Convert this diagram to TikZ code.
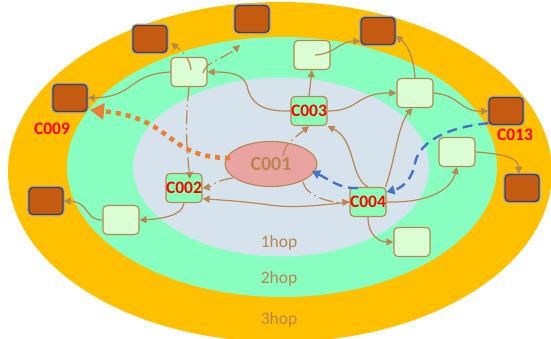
\documentclass[tikz,border=0pt]{standalone}
\usepackage{fontspec}
\setmainfont{Carlito}
\usetikzlibrary{arrows.meta,calc,shapes.geometric}
\definecolor{orng}{HTML}{FFC000}
\definecolor{ringg}{HTML}{88FFC0}
\definecolor{inner}{HTML}{D6E3EC}
\definecolor{brc}{HTML}{B8864E}
\definecolor{lgf}{HTML}{DAFDD3}
\definecolor{gbf}{HTML}{8AFDB8}
\definecolor{bbf}{HTML}{C55A11}
\definecolor{bbd}{HTML}{3E4456}
\definecolor{halo}{HTML}{B9A88E}
\definecolor{pinkf}{HTML}{E9A3A1}
\definecolor{orarrow}{HTML}{ED7D31}
\definecolor{bluearr}{HTML}{4472C4}
\newcommand\mylabfont{\fontsize{17.5}{18}\selectfont\bfseries}
\newcommand\myhopfont{\fontsize{17.5}{18}\selectfont}
\tikzset{
  lbox/.style={draw=brc, line width=1.1pt, fill=lgf, rounded corners=4pt,
    minimum width=36pt, minimum height=29pt, inner sep=0pt},
  gbox/.style={lbox, fill=gbf, text=red, font=\mylabfont},
  bbox/.style={draw=bbd, line width=1.4pt, fill=bbf, rounded corners=4pt,
    minimum width=34pt, minimum height=27pt, inner sep=0pt,
    preaction={draw=halo, line width=3.8pt}},
  conn/.style={draw=brc, line width=1.2pt, -{Triangle[length=7pt,width=7pt]}},
  dd/.style={conn, dash pattern=on 14pt off 4pt on 1.5pt off 4pt},
  bluedash/.style={draw=bluearr, line width=2.4pt, dash pattern=on 10pt off 6pt,
    -{Triangle[length=8pt,width=9pt]}},
  orangedot/.style={draw=orarrow, line width=4.5pt, dash pattern=on 5pt off 5pt,
    -{Triangle[length=14pt,width=16pt]}},
  redlab/.style={text=red, font=\mylabfont},
  hoplab/.style={text=brc, font=\myhopfont}
}
\begin{document}
\begin{tikzpicture}[x=1pt,y=-1pt]
\useasboundingbox (0,0) rectangle (551,339);
\clip (0,0) rectangle (551,339);
% rings
\fill[orng] (280,172) ellipse [x radius=272pt, y radius=170pt];
\fill[ringg] (282,167) ellipse [x radius=215pt, y radius=130pt];
\fill[inner] (281,167) ellipse [x radius=148pt, y radius=89.5pt];

\node[hoplab] (h1) at (279,243) {1hop};
\node[hoplab] (h2) at (279,279) {2hop};
\node[hoplab] (h3) at (279,320) {3hop};

% nodes
\node[draw=brc, line width=1.1pt, fill=pinkf, ellipse, minimum width=92pt,
  minimum height=45pt, inner sep=0pt, text=brc, font=\fontsize{20}{22}\selectfont\bfseries]
  (c001) at (271,164) {C001};
\node[gbox] (c002) at (184,188) {C002};
\node[gbox] (c003) at (309,111) {C003};
\node[gbox] (c004) at (368,202) {C004};

\node[lbox] (la) at (189,72) {};
\node[lbox] (lb) at (312,55) {};
\node[lbox] (lc) at (415,93) {};
\node[lbox] (ld) at (457,152) {};
\node[lbox] (le) at (121,220) {};
\node[lbox] (lf) at (412,242) {};

\node[bbox] (ba) at (150,39) {};
\node[bbox] (bb) at (252,19) {};
\node[bbox] (bc) at (378,31) {};
\node[bbox] (bd) at (70,98) {};
\node[bbox] (be) at (506,111) {};
\node[bbox] (bf) at (522,188) {};
\node[bbox] (bg) at (46,201) {};

\node[redlab] (l009) at (52,129) {C009};
\node[redlab] (l013) at (515,135) {C013};

% free ends
\coordinate (tipa) at (171,43);
\coordinate (tipb) at (240,45);
\coordinate (tipc2) at (190,179);
\coordinate (s13) at (283,156);
\coordinate (s14) at (303,182);
\coordinate (s12) at (233,178);
\coordinate (sor) at (230,158);
\coordinate (tor) at (90,110);
\coordinate (sbl) at (358,188);
\coordinate (tbl) at (312,171);

% solid connectors
\draw[conn] (c003.north) -- (lb.south);
\draw[conn] ($(lb.center)+(3,0)$) .. controls (335,54) and (340,41) .. (bc.-150);
\draw[conn] (lc.north) .. controls (414,60) and (408,45) .. (bc.-15);
\draw[conn] (c003.east) .. controls (360,111) and (355,93) .. (lc.west);
\draw[conn] (lc.east) .. controls (460,95) and (460,112) .. (be.west);
\draw[conn] (c003.west) .. controls (258,112) and (250,100) .. (247,86)
   .. controls (244,74) and (230,72) .. (la.east);
\draw[conn] (la.west) .. controls (128,74) and (135,97) .. (bd.east);
\draw[conn] (c004.west) .. controls (300,208) and (285,207) .. (270,205)
   .. controls (240,201) and (220,200) .. (c002.-30);
\draw[conn] (c002.south) .. controls (183,216) and (160,219) .. (le.east);
\draw[conn] (le.west) .. controls (84,220) and (90,202) .. (bg.east);
\draw[conn] (c004.south) .. controls (368,236) and (380,242) .. (lf.west);
\draw[conn] (c004.east) .. controls (425,203) and (450,192) .. (ld.south);
\draw[conn] ($(c004.north east)+(-1,0)$) .. controls (395,160) and (398,125) .. (lc.-100);
\draw[conn] (c004.north) .. controls (350,178) and (356,140) .. (c003.south east);
\draw[conn] (ld.east) .. controls (505,154) and (518,158) .. ($(bf.north)+(-3,0)$);

% dash-dot connectors
\draw[dd] (191,70) .. controls (190,58) and (182,51) .. (tipa);
\draw[dd] (203,73) .. controls (205,62) and (225,58) .. (tipb);
\draw[dd] (la.south) .. controls (184,130) and (188,160) .. (tipc2);
\draw[dd] (s12) .. controls (216,180) and (210,187) .. (c002.east);
\draw[dd] (s13) .. controls (284,144) and (296,137) .. (c003.south);
\draw[dd] (s14) .. controls (306,196) and (330,203) .. (c004.west);

% orange thick dotted
\draw[orangedot] (sor) .. controls (165,158) and (175,118) .. (tor);

% blue dashed
\draw[bluedash] ($(be.south west)+(0,-2)$) .. controls (450,127) and (420,140) .. (415,163)
   .. controls (412,180) and (402,188) .. ($(c004.north east)+(0,5)$);
\draw[bluedash] (sbl) .. controls (340,189) and (330,180) .. (tbl);
\end{tikzpicture}
\end{document}
